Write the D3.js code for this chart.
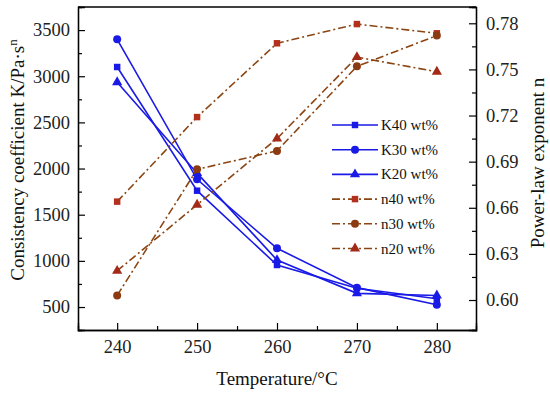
<!DOCTYPE html>
<html>
<head>
<meta charset="utf-8">
<script src="https://cdn.jsdelivr.net/npm/d3@7"></script>
<style>
  body { margin: 0; background: #fff; }
  text { font-family: "Liberation Serif", "Times New Roman", serif; }
</style>
</head>
<body>
<div id="chart"></div>
<script>
// data
const temps = [240, 250, 260, 270, 280];
const k40 = [3100, 1760, 955, 703, 590];
const k30 = [3400, 1883, 1136, 710, 525];
const k20 = [2935, 1950, 1009, 648, 625];
const n40 = [0.664, 0.719, 0.767, 0.7795, 0.7735];
const n30 = [0.603, 0.685, 0.697, 0.752, 0.772];
const n20 = [0.619, 0.662, 0.705, 0.758, 0.7485];
const leftTicks = [500, 1000, 1500, 2000, 2500, 3000, 3500];
const rightTicks = [0.60, 0.63, 0.66, 0.69, 0.72, 0.75, 0.78];
const xTicks = [240, 250, 260, 270, 280];

const W = 550, H = 393;
const margin = { top: 7, right: 74, bottom: 63, left: 78 };
const width = W - margin.left - margin.right;
const height = H - margin.top - margin.bottom;

const svg = d3.select("#chart").append("svg")
  .attr("width", W).attr("height", H);
const g = svg.append("g")
  .attr("transform", `translate(${margin.left},${margin.top})`);

// scales
const x = d3.scaleLinear().domain([235.1, 284.9]).range([0, width]);
const yL = d3.scaleLinear().domain([251, 3750]).range([height, 0]);
const yR = d3.scaleLinear().domain([0.5805, 0.7906]).range([height, 0]);

const blue = "#1a1ae6";
const brown = "#8b4513";

// axes with inward ticks
g.append("g").attr("transform", `translate(0,${height})`)
  .call(d3.axisBottom(x).tickValues(xTicks).tickSize(-7).tickPadding(10).tickFormat(d3.format("d")));
g.append("g").attr("transform", `translate(0,${height})`)
  .call(d3.axisBottom(x).tickValues([245, 255, 265, 275]).tickSize(-4).tickFormat(""));

g.append("g")
  .call(d3.axisLeft(yL).tickValues(leftTicks).tickSize(-7).tickPadding(8).tickFormat(d3.format("d")));
g.append("g")
  .call(d3.axisLeft(yL).tickValues([750, 1250, 1750, 2250, 2750, 3250]).tickSize(-4).tickFormat(""));

g.append("g").attr("transform", `translate(${width},0)`)
  .call(d3.axisRight(yR).tickValues(rightTicks).tickSize(-7).tickPadding(10).tickFormat(d3.format(".2f")));
g.append("g").attr("transform", `translate(${width},0)`)
  .call(d3.axisRight(yR).tickValues([0.615, 0.645, 0.675, 0.705, 0.735, 0.765]).tickSize(-4).tickFormat(""));

g.selectAll(".domain").attr("stroke", "#000").attr("stroke-width", 1.3);
g.selectAll(".tick line").attr("stroke", "#000").attr("stroke-width", 1.2);
g.selectAll(".tick text").attr("font-size", 18.5).attr("fill", "#222")
  .style("font-family", "'Liberation Serif', serif");

// frame top
g.append("line").attr("x1", 0).attr("x2", width).attr("y1", 0).attr("y2", 0)
  .attr("stroke", "#000").attr("stroke-width", 1.3);

// series
const series = [
  { name: "K40 wt%", vals: k40, y: yL, color: blue, marker: d3.symbolSquare, fill: blue, dash: null },
  { name: "K30 wt%", vals: k30, y: yL, color: blue, marker: d3.symbolCircle, fill: blue, dash: null },
  { name: "K20 wt%", vals: k20, y: yL, color: blue, marker: d3.symbolTriangle, fill: blue, dash: null },
  { name: "n40 wt%", vals: n40, y: yR, color: brown, marker: d3.symbolSquare, fill: "#b3301c", dash: "8,3,2,3" },
  { name: "n30 wt%", vals: n30, y: yR, color: brown, marker: d3.symbolCircle, fill: "#8b3a12", dash: "8,3,2,3" },
  { name: "n20 wt%", vals: n20, y: yR, color: brown, marker: d3.symbolTriangle, fill: "#a32a18", dash: "8,3,2,3" }
];

const sizeOf = (m) => (m === d3.symbolTriangle ? 45 : m === d3.symbolCircle ? 50 : 42);

series.forEach((s) => {
  const pts = temps.map((t, i) => [x(t), s.y(s.vals[i])]);
  g.append("path")
    .attr("d", d3.line()(pts))
    .attr("fill", "none")
    .attr("stroke", s.color)
    .attr("stroke-width", 1.6)
    .attr("stroke-dasharray", s.dash);
  g.selectAll(null).data(pts).enter().append("path")
    .attr("transform", (d) => `translate(${d[0]},${d[1]})`)
    .attr("d", d3.symbol().type(s.marker).size(sizeOf(s.marker)))
    .attr("fill", s.fill);
});

// legend
const legend = svg.append("g");
series.forEach((s, i) => {
  const yy = 125 + i * 24.7;
  legend.append("line")
    .attr("x1", 332).attr("x2", 378).attr("y1", yy).attr("y2", yy)
    .attr("stroke", s.color).attr("stroke-width", 1.6)
    .attr("stroke-dasharray", s.dash);
  legend.append("path")
    .attr("transform", `translate(355,${yy})`)
    .attr("d", d3.symbol().type(s.marker).size(sizeOf(s.marker)))
    .attr("fill", s.fill);
  legend.append("text")
    .attr("x", 381).attr("y", yy + 5)
    .attr("font-size", 15).attr("fill", "#111")
    .text(s.name);
});

// axis titles
svg.append("text")
  .attr("x", margin.left + x(260)).attr("y", 385)
  .attr("text-anchor", "middle").attr("font-size", 19).attr("fill", "#111")
  .text("Temperature/°C");

const lt = svg.append("text")
  .attr("transform", `translate(24,${160}) rotate(-90)`)
  .attr("text-anchor", "middle").attr("font-size", 19).attr("fill", "#111");
lt.append("tspan").text("Consistency coefficient  K/Pa·s");
lt.append("tspan").attr("dy", -7).attr("font-size", 13).text("n");

svg.append("text")
  .attr("transform", `translate(544,${163}) rotate(-90)`)
  .attr("text-anchor", "middle").attr("font-size", 19).attr("fill", "#111")
  .text("Power-law exponent  n");
</script>
</body>
</html>
